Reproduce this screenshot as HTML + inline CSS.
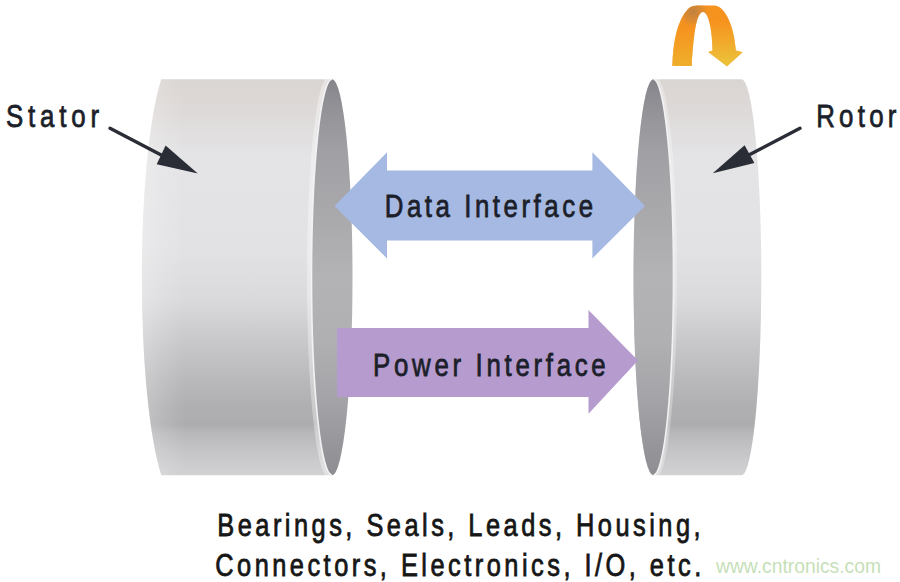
<!DOCTYPE html>
<html><head><meta charset="utf-8">
<style>
html,body{margin:0;padding:0;background:#fff;}
body{width:900px;height:582px;overflow:hidden;}
svg{display:block;}
text{font-family:"Liberation Sans",sans-serif;}
</style></head>
<body>
<svg width="900" height="582" viewBox="0 0 900 582">
<defs>
  <linearGradient id="surf" x1="0" y1="80" x2="0" y2="475" gradientUnits="userSpaceOnUse">
    <stop offset="0.0000" stop-color="#d9d5d3"/>
    <stop offset="0.0380" stop-color="#dcd7d5"/>
    <stop offset="0.0886" stop-color="#dedad9"/>
    <stop offset="0.1392" stop-color="#e1dfe0"/>
    <stop offset="0.2025" stop-color="#e4e4e6"/>
    <stop offset="0.4304" stop-color="#e2e2e4"/>
    <stop offset="0.5570" stop-color="#dadadc"/>
    <stop offset="0.6329" stop-color="#cdcdcf"/>
    <stop offset="0.7089" stop-color="#c1c1c3"/>
    <stop offset="0.7722" stop-color="#b7b7b9"/>
    <stop offset="0.8228" stop-color="#b0b0b2"/>
    <stop offset="0.8734" stop-color="#adadaf"/>
    <stop offset="0.8937" stop-color="#b8b8ba"/>
    <stop offset="0.9367" stop-color="#c4c4c6"/>
    <stop offset="0.9671" stop-color="#cbcbcd"/>
    <stop offset="1.0000" stop-color="#d2d2d4"/>
  </linearGradient>
  <linearGradient id="inner" x1="0" y1="80" x2="0" y2="475" gradientUnits="userSpaceOnUse">
    <stop offset="0.0000" stop-color="#848489"/>
    <stop offset="0.0380" stop-color="#8c8c92"/>
    <stop offset="0.1013" stop-color="#96969b"/>
    <stop offset="0.1772" stop-color="#a0a0a4"/>
    <stop offset="0.3544" stop-color="#aaaaad"/>
    <stop offset="0.4987" stop-color="#b3b3b6"/>
    <stop offset="0.6582" stop-color="#b0b0b3"/>
    <stop offset="0.8101" stop-color="#a4a4a8"/>
    <stop offset="0.9114" stop-color="#98989c"/>
    <stop offset="1.0000" stop-color="#8e8e92"/>
  </linearGradient>
  <linearGradient id="orange" x1="672" y1="0" x2="742" y2="0" gradientUnits="userSpaceOnUse">
    <stop offset="0" stop-color="#f2a328"/>
    <stop offset="0.35" stop-color="#e08a35"/>
    <stop offset="0.6" stop-color="#f7961f"/>
    <stop offset="1" stop-color="#f0b62c"/>
  </linearGradient>
  <linearGradient id="ledge" x1="142" y1="0" x2="185" y2="0" gradientUnits="userSpaceOnUse">
    <stop offset="0" stop-color="#ffffff" stop-opacity="0.28"/>
    <stop offset="0.5" stop-color="#ffffff" stop-opacity="0.12"/>
    <stop offset="1" stop-color="#ffffff" stop-opacity="0"/>
  </linearGradient>
</defs>

<!-- Stator -->
<path d="M161.3,79.3 L332,79.3 A20.5,197.95 0 0 0 332,475.2 L161.3,475.2 A34.5,220 0 0 1 161.3,79.3 Z" fill="url(#surf)"/>
<path d="M161.3,79.3 L332,79.3 A20.5,197.95 0 0 0 332,475.2 L161.3,475.2 A34.5,220 0 0 1 161.3,79.3 Z" fill="url(#ledge)"/>
<path d="M332,79.3 A20.5,197.95 0 0 0 332,475.2" fill="none" stroke="#ffffff" stroke-opacity="0.35" stroke-width="9"/>
<ellipse cx="332" cy="277.25" rx="20.5" ry="197.95" fill="url(#inner)"/>
<path d="M332,79.3 A20.5,197.95 0 0 0 332,475.2" fill="none" stroke="#f2f2f4" stroke-width="1.6"/>

<!-- Rotor -->
<path d="M653.5,79.3 L741.5,79.3 A19.8,197.95 0 0 1 741.5,475.2 L653.5,475.2 A20,197.95 0 0 1 653.5,79.3 Z" fill="url(#surf)"/>
<path d="M653.5,79.3 A20,197.95 0 0 1 653.5,475.2" fill="none" stroke="#ffffff" stroke-opacity="0.3" stroke-width="7"/>
<ellipse cx="653.5" cy="277.25" rx="20" ry="197.95" fill="url(#inner)"/>
<path d="M653.5,79.3 A20,197.95 0 0 1 653.5,475.2" fill="none" stroke="#f2f2f4" stroke-width="1.6"/>

<!-- Data interface arrow -->
<polygon points="334.5,206 387,152.3 387,170.5 592.4,170.5 592.4,152.3 645,206 592.4,258.4 592.4,240.6 387,240.6 387,258.4" fill="#a6b9e2"/>
<!-- Power interface arrow -->
<polygon points="337,328 588.5,328 588.5,310 638,360.5 588.5,413.7 588.5,397 337,397" fill="#b69cce"/>

<!-- orange rotation arrow -->
<clipPath id="oclip"><path id="oarrow" d="M672.4,66 C673,40 677.5,20 688,9 C691,6 695,5.6 701,5.6 L714,5.6 C726,6 734.5,28 735.8,50.5 L742.5,52.3 L727,66.3 L708.3,52 L712.6,50.5 C712.3,33 709,12 703,12 C697,12 694,30 691.6,66 Z"/></clipPath>
<radialGradient id="obrown" cx="693" cy="12" r="17" gradientUnits="userSpaceOnUse">
  <stop offset="0" stop-color="#bd7f40" stop-opacity="0.95"/>
  <stop offset="0.55" stop-color="#cc853a" stop-opacity="0.6"/>
  <stop offset="1" stop-color="#f08f20" stop-opacity="0"/>
</radialGradient>
<linearGradient id="oleft" x1="0" y1="28" x2="0" y2="67" gradientUnits="userSpaceOnUse">
  <stop offset="0" stop-color="#eeb02c" stop-opacity="0"/>
  <stop offset="1" stop-color="#eeb02c" stop-opacity="1"/>
</linearGradient>
<linearGradient id="oright" x1="0" y1="22" x2="0" y2="62" gradientUnits="userSpaceOnUse">
  <stop offset="0" stop-color="#ecc038" stop-opacity="0"/>
  <stop offset="1" stop-color="#ecc038" stop-opacity="1"/>
</linearGradient>
<g clip-path="url(#oclip)">
  <rect x="665" y="0" width="85" height="70" fill="#f6931f"/>
  <rect x="665" y="0" width="37" height="70" fill="url(#oleft)"/>
  <rect x="702" y="0" width="48" height="70" fill="url(#oright)"/>
  <rect x="665" y="0" width="85" height="70" fill="url(#obrown)"/>
</g>

<!-- pointer arrows -->
<line x1="110" y1="128.3" x2="165" y2="157" stroke="#2a2d36" stroke-width="3.4" stroke-linecap="round"/>
<polygon points="197.8,173.4 165.6,145.6 156.7,164.2" fill="#2a2d36"/>
<line x1="800" y1="128.3" x2="745" y2="157" stroke="#2a2d36" stroke-width="3.4" stroke-linecap="round"/>
<polygon points="712.8,173.3 744.6,145.2 754.4,163" fill="#2a2d36"/>

<!-- texts -->
<g fill="#1c1f2a" stroke="#1c1f2a" stroke-width="0.8" font-size="31.5">
<g transform="translate(6.0,0) scale(0.82,1)"><text x="0" y="127.3" textLength="113.4" lengthAdjust="spacing">Stator</text></g>
<g transform="translate(816.2,0) scale(0.82,1)"><text x="0" y="127" textLength="97.9" lengthAdjust="spacing">Rotor</text></g>
<g transform="translate(384.8,0) scale(0.82,1)"><text x="0" y="216.8" textLength="253.9" lengthAdjust="spacing">Data Interface</text></g>
<g transform="translate(373.1,0) scale(0.82,1)"><text x="0" y="375.6" textLength="283.6" lengthAdjust="spacing">Power Interface</text></g>
</g>
<g fill="#161616" stroke="#161616" stroke-width="0.8" font-size="31">
<g transform="translate(217.3,0) scale(0.82,1)"><text x="0" y="536" textLength="589.4" lengthAdjust="spacing">Bearings, Seals, Leads, Housing,</text></g>
<g transform="translate(215.2,0) scale(0.82,1)"><text x="0" y="575.7" textLength="592.7" lengthAdjust="spacing">Connectors, Electronics, I/O, etc.</text></g>
</g>
<text x="716" y="572.8" font-size="19.3" fill="#c6dfb8" textLength="165" lengthAdjust="spacingAndGlyphs">www.cntronics.com</text>
</svg>
</body></html>
